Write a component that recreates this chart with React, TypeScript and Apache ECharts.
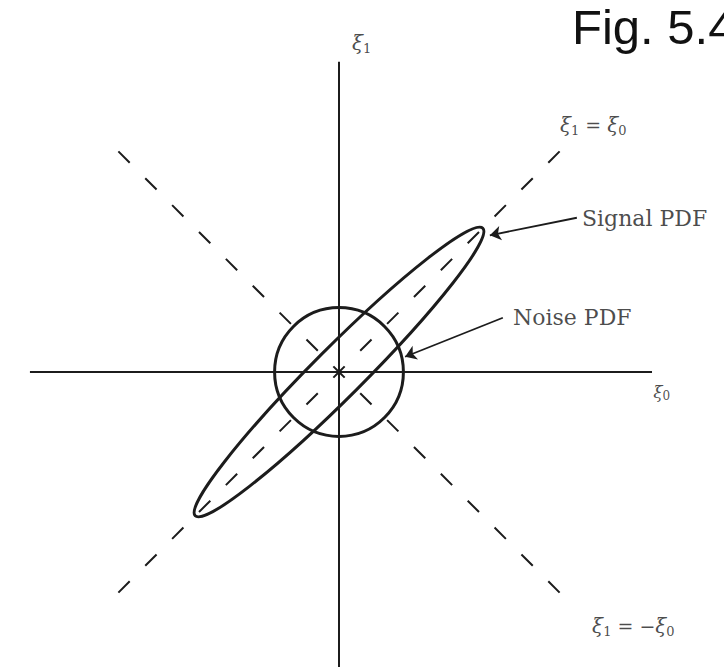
import React, { useEffect, useRef } from "react";
import * as echarts from "echarts";

// Plane geometry in ξ-units; one unit is drawn at PX pixels on both axes.
const PX = 56.5;
const ORIGIN_PX = [339, 372];
const W = 724;
const H = 667;

// Coordinate axes ξ0 (horizontal) and ξ1 (vertical)
const xi0Axis = [[-5.47, 0], [5.54, 0]];
const xi1Axis = [[0, -5.22], [0, 5.49]];

// Dashed diagonals, drawn as rays from the origin
const diagPlusRays = [
  [[0, 0], [4.0, 4.0]],
  [[0, 0], [-4.0, -4.0]],
];
const diagMinusRays = [
  [[0, 0], [-4.0, 4.0]],
  [[0, 0], [4.0, -4.0]],
];

// [cx, cy, semi-axis along, semi-axis across, tilt in degrees]
const signalPdf = [0, 0, 3.6, 0.44, 45];
const noisePdf = [0, 0, 1.14, 1.14, 0];

// Leader arrows: [from, to]
const signalArrow = [[4.21, 2.73], [2.67, 2.42]];
const noiseArrow = [[2.9, 0.96], [1.17, 0.27]];

// Text anchors (left edge, vertical centre)
const labelNames = ["xi1Axis", "xi0Axis", "diagPlus", "diagMinus", "signal", "noise"];
const labelAnchors = [
  [0.23, 5.82],
  [5.56, -0.36],
  [3.91, 4.37],
  [4.48, -4.5],
  [4.3, 2.71],
  [3.08, 0.97],
];
const labelTexts = [
  "{x|ξ}{s|1}",
  "{xs|ξ}{ss|0}",
  "{x|ξ}{s|1}{o| = }{x|ξ}{s|0}",
  "{x|ξ}{s|1}{o| = −}{x|ξ}{s|0}",
  "{t|Signal PDF}",
  "{t|Noise PDF}",
];

const INK = "#1c1c1c";

const richStyles = {
  x: { fontFamily: "DejaVu Serif", fontStyle: "italic", fontSize: 20, lineHeight: 24, color: INK },
  s: { fontFamily: "DejaVu Serif", fontSize: 13, lineHeight: 14, verticalAlign: "bottom", color: INK },
  xs: { fontFamily: "DejaVu Serif", fontStyle: "italic", fontSize: 17, lineHeight: 20, color: INK },
  ss: { fontFamily: "DejaVu Serif", fontSize: 12, lineHeight: 12, verticalAlign: "bottom", color: INK },
  o: { fontFamily: "DejaVu Serif", fontSize: 19, lineHeight: 24, color: INK },
  t: { fontFamily: "DejaVu Serif", fontSize: 22, lineHeight: 26, color: INK },
};

function rayLine(ray: number[][], name: string) {
  return {
    name,
    type: "line",
    data: ray,
    symbol: "none",
    silent: true,
    lineStyle: { color: INK, width: 2, type: [16, 22], dashOffset: 8 },
  };
}

function solidLine(pts: number[][], name: string) {
  return {
    name,
    type: "line",
    data: pts,
    symbol: "none",
    silent: true,
    lineStyle: { color: INK, width: 2 },
  };
}

export default function App() {
  const ref = useRef<HTMLDivElement>(null);

  useEffect(() => {
    if (!ref.current) return;
    const chart = echarts.init(ref.current, undefined, { renderer: "svg" });

    const xMin = -ORIGIN_PX[0] / PX;
    const xMax = (W - ORIGIN_PX[0]) / PX;
    const yMax = ORIGIN_PX[1] / PX;
    const yMin = -(H - ORIGIN_PX[1]) / PX;

    const conicSeries = {
      name: "pdfs",
      type: "custom",
      silent: true,
      clip: false,
      data: [signalPdf, noisePdf],
      renderItem: (_params: any, api: any) => {
        const c = api.coord([api.value(0), api.value(1)]);
        const s = api.size([api.value(2), api.value(3)]);
        return {
          type: "ellipse",
          x: c[0],
          y: c[1],
          rotation: (api.value(4) * Math.PI) / 180,
          shape: { cx: 0, cy: 0, rx: s[0], ry: s[1] },
          style: { fill: "none", stroke: INK, lineWidth: 3 },
        };
      },
    };

    const arrowSeries = {
      name: "leaders",
      type: "lines",
      coordinateSystem: "cartesian2d",
      silent: true,
      symbol: ["none", "arrow"],
      symbolSize: [0, 11],
      lineStyle: { color: INK, width: 1.8, opacity: 1 },
      data: [{ coords: signalArrow }, { coords: noiseArrow }],
    };

    const labelSeries = {
      name: "labels",
      type: "scatter",
      symbolSize: 0,
      silent: true,
      data: labelAnchors.map((p, i) => ({
        name: labelNames[i],
        value: p,
        label: {
          show: true,
          position: "right",
          distance: 0,
          formatter: labelTexts[i],
          rich: richStyles,
        },
      })),
    };

    chart.setOption({
      animation: false,
      backgroundColor: "#ffffff",
      grid: { left: 0, right: 0, top: 0, bottom: 0 },
      xAxis: { type: "value", min: xMin, max: xMax, show: false },
      yAxis: { type: "value", min: yMin, max: yMax, show: false },
      graphic: [
        {
          type: "text",
          left: 572,
          top: 2,
          style: {
            text: "Fig. 5.4",
            fontFamily: "Liberation Sans",
            fontSize: 49,
            fill: "#111111",
          },
        },
      ],
      series: [
        solidLine(xi0Axis, "xi0"),
        solidLine(xi1Axis, "xi1"),
        rayLine(diagPlusRays[0], "diag+a"),
        rayLine(diagPlusRays[1], "diag+b"),
        rayLine(diagMinusRays[0], "diag-a"),
        rayLine(diagMinusRays[1], "diag-b"),
        conicSeries,
        arrowSeries,
        labelSeries,
      ],
    });

    return () => chart.dispose();
  }, []);

  return (
    <div
      ref={ref}
      style={{ position: "fixed", left: 0, top: 0, width: W, height: H, background: "#fff" }}
    />
  );
}
